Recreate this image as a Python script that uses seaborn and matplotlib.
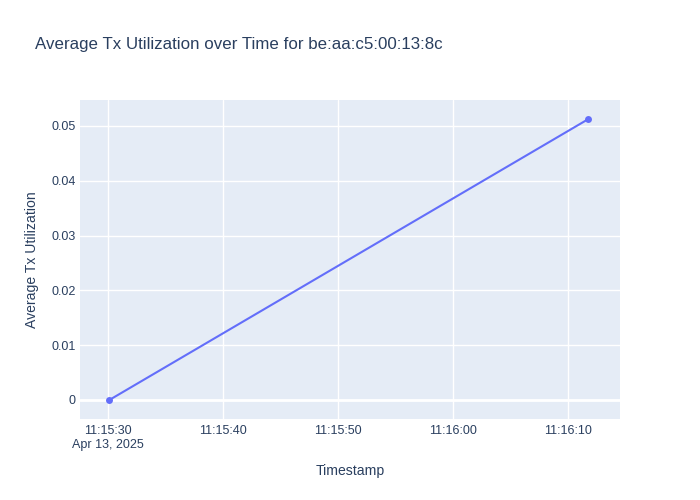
import pandas as pd
import seaborn as sns
import matplotlib
matplotlib.use("Agg")
import matplotlib.pyplot as plt
import matplotlib.dates as mdates

timestamps = ["2025-04-13 11:15:30.1", "2025-04-13 11:16:11.7"]
avg_tx_util = [0.0, 0.0512]
tick_times = ["2025-04-13 11:15:30", "2025-04-13 11:15:40", "2025-04-13 11:15:50",
              "2025-04-13 11:16:00", "2025-04-13 11:16:10"]
y_ticks = [0, 0.01, 0.02, 0.03, 0.04, 0.05]
y_ticklabels = ["0", "0.01", "0.02", "0.03", "0.04", "0.05"]

df = pd.DataFrame({"Timestamp": pd.to_datetime(timestamps), "Average Tx Utilization": avg_tx_util})

txt = "#2a3f5f"
sns.set_style("white")
plt.rcParams['font.family'] = ['Liberation Sans', 'DejaVu Sans']

fig = plt.figure(figsize=(7, 5), dpi=100)
ax = fig.add_axes([80/700, 81/500, 540/700, 319/500])
ax.set_facecolor("#E5ECF6")

sns.lineplot(data=df, x="Timestamp", y="Average Tx Utilization", ax=ax,
             color="#636EFA", linewidth=1.5, marker="o", markersize=5,
             markeredgewidth=0, zorder=5)

ticks = pd.to_datetime(tick_times)
ax.set_xticks(mdates.date2num(ticks))
labels = [t.strftime("%H:%M:%S") for t in ticks]
labels[0] = labels[0] + "\nApr 13, 2025"
ax.set_xticklabels(labels)
ax.set_xlim(mdates.date2num(pd.Timestamp("2025-04-13 11:15:27.55")),
            mdates.date2num(pd.Timestamp("2025-04-13 11:16:14.5")))
ax.set_ylim(-0.00347, 0.05474)
ax.set_yticks(y_ticks)
ax.set_yticklabels(y_ticklabels)

ax.grid(True, color="white", linewidth=1)
ax.axhline(0, color="white", linewidth=2, zorder=2)
ax.set_axisbelow(True)
for s in ax.spines.values():
    s.set_visible(False)
ax.tick_params(length=0, labelsize=9, colors=txt)
ax.tick_params(axis="x", pad=4.5)
ax.tick_params(axis="y", pad=3)

ax.set_xlabel("Timestamp", fontsize=10.1, color=txt, va="center")
ax.set_ylabel("Average Tx Utilization", fontsize=10.1, color=txt, va="center")
ax.xaxis.set_label_coords(0.5, (419 - 471) / 319)
ax.yaxis.set_label_coords((32 - 80) / 540, 0.5)

fig.text(35/700, 1 - 44/500, "Average Tx Utilization over Time for be:aa:c5:00:13:8c",
         ha="left", va="center", fontsize=12.2, color=txt)

fig.savefig("out.png", dpi=100)
